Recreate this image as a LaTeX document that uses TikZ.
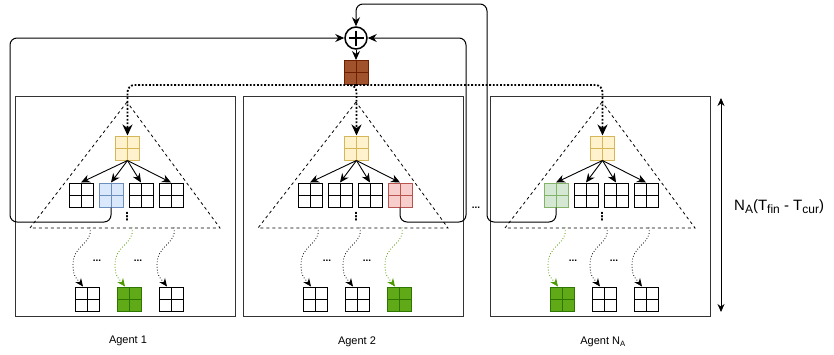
\documentclass[tikz,border=0pt]{standalone}
\usepackage{fontspec}
\setmainfont{Liberation Sans}
\newfontfamily\symfont{DejaVu Sans}
\usepackage{tikz}
\usetikzlibrary{shapes,arrows.meta,positioning,calc}

\definecolor{yelfill}{HTML}{FFF2CC}
\definecolor{yeldraw}{HTML}{D6B656}
\definecolor{bluefill}{HTML}{DAE8FC}
\definecolor{bluedraw}{HTML}{6C8EBF}
\definecolor{redfill}{HTML}{F8CECC}
\definecolor{reddraw}{HTML}{B85450}
\definecolor{lgrfill}{HTML}{D5E8D4}
\definecolor{lgrdraw}{HTML}{82B366}
\definecolor{grfill}{HTML}{60A917}
\definecolor{grdraw}{HTML}{2D7600}
\definecolor{brfill}{HTML}{A0522D}
\definecolor{brdraw}{HTML}{6D1F00}
\definecolor{grline}{HTML}{4D9900}

\newcommand{\subtext}[1]{\raisebox{-0.35ex}{\fontsize{12}{14}\selectfont #1}}

\tikzset{
	cell/.style 2 args={draw=#1, fill=#2, line width=1pt, minimum size=24pt, inner sep=0pt,
		path picture={\draw[#1, line width=1pt] (path picture bounding box.north) -- (path picture bounding box.south) (path picture bounding box.west) -- (path picture bounding box.east);}},
	emptycell/.style={cell={black}{white}},
	agentbox/.style={draw=black!80, line width=1pt},
	searchtree/.style={dashed, line width=0.8pt},
	arr/.style={-{Stealth[length=9pt,width=8pt]}, line width=0.9pt},
	feedback/.style={-{Stealth[length=9pt,width=8pt]}, line width=1pt, rounded corners=7pt},
	sharing/.style={-{Stealth[length=11pt,width=10pt]}, line width=1.8pt, dash pattern=on 1.8pt off 1.8pt, rounded corners=7pt},
	wavy/.style={-{Stealth[length=8pt,width=7pt]}, dotted, line width=0.8pt},
	hdots/.style={font=\bfseries, inner sep=0pt},
	vdots/.style={font=\symfont\bfseries\fontsize{11}{12}\selectfont, inner sep=0pt}
}

\begin{document}
\begin{tikzpicture}[x=1pt,y=-1pt]
	\useasboundingbox (0,0) rectangle (834,354);

	\draw[agentbox] (15,96) rectangle (235,316);
	\draw[agentbox] (243,96) rectangle (463,316);
	\draw[agentbox] (490,96) rectangle (710,316);
	\node[font=\fontsize{11}{13}\selectfont] (agent1) at (128,341) {Agent 1};
	\node[font=\fontsize{11}{13}\selectfont] (agent2) at (357,342) {Agent 2};
	\node[font=\fontsize{11}{13}\selectfont] (agent3) at (603,342) {Agent N\textsubscript{A}};

	\draw[searchtree] (127,102) -- (30,228) -- (220,228) -- cycle;
	\draw[searchtree] (356,102) -- (258,228) -- (448,228) -- cycle;
	\draw[searchtree] (602,102) -- (505,228) -- (695,228) -- cycle;

	\node[circle, draw, line width=1.5pt, minimum size=22pt, inner sep=0pt,
		path picture={\draw[line width=1.8pt] ([yshift=-3.5pt]path picture bounding box.north) -- ([yshift=3.5pt]path picture bounding box.south) ([xshift=3.5pt]path picture bounding box.west) -- ([xshift=-3.5pt]path picture bounding box.east);}] (sum) at (356,38) {};
	\node[cell={brdraw}{brfill}] (brown) at (356,72.5) {};

	\node[cell={yeldraw}{yelfill}] (y1) at (127.5,148) {};
	\node[cell={yeldraw}{yelfill}] (y2) at (356.5,148) {};
	\node[cell={yeldraw}{yelfill}] (y3) at (602.5,148) {};

	\node[emptycell] (c11) at (81,195) {};
	\node[cell={bluedraw}{bluefill}, right=5pt of c11] (c12) {};
	\node[emptycell, right=5pt of c12] (c13) {};
	\node[emptycell, right=5pt of c13] (c14) {};
	\node[emptycell] (c21) at (310,195) {};
	\node[emptycell, right=5pt of c21] (c22) {};
	\node[emptycell, right=5pt of c22] (c23) {};
	\node[cell={reddraw}{redfill}, right=5pt of c23] (c24) {};
	\node[cell={lgrdraw}{lgrfill}] (c31) at (556,195) {};
	\node[emptycell, right=5pt of c31] (c32) {};
	\node[emptycell, right=5pt of c32] (c33) {};
	\node[emptycell, right=5pt of c33] (c34) {};

	\node[vdots] (v1) at (127,217) {⋮};
	\node[vdots] (v2) at (356,217) {⋮};
	\node[vdots] (v3) at (602,217) {⋮};

	\node[emptycell] (b11) at (87,299) {};
	\node[cell={grdraw}{grfill}, right=17pt of b11] (b12) {};
	\node[emptycell, right=17pt of b12] (b13) {};
	\node[emptycell] (b21) at (315,299) {};
	\node[emptycell, right=17pt of b21] (b22) {};
	\node[cell={grdraw}{grfill}, right=17pt of b22] (b23) {};
	\node[cell={grdraw}{grfill}] (b31) at (562,299) {};
	\node[emptycell, right=17pt of b31] (b32) {};
	\node[emptycell, right=17pt of b32] (b33) {};

	\node[hdots] (d11) at (97,261) {...};
	\node[hdots] (d12) at (138,261) {...};
	\node[hdots] (d21) at (327,261) {...};
	\node[hdots] (d22) at (367,261) {...};
	\node[hdots] (d31) at (573,261) {...};
	\node[hdots] (d32) at (614,261) {...};
	\node[hdots] (dmid) at (476,208) {...};

	\foreach \t in {y1,y2,y3}
		\draw[sharing] (brown.south) -| (\t.north);
	\draw[arr] (sum) -- (brown);

	\foreach \c in {c11,c12,c13,c14}
		\draw[arr] (y1.south) -- (\c.north);
	\foreach \c in {c21,c22,c23,c24}
		\draw[arr] (y2.south) -- (\c.north);
	\foreach \c in {c31,c32,c33,c34}
		\draw[arr] (y3.south) -- (\c.north);

	\foreach \b/\col in {b11/black,b12/grline,b13/black,b21/black,b22/black,b23/grline,b31/grline,b32/black,b33/black}
		\draw[wavy,\col] ($(\b.north)+(3,-59)$) .. controls +(3,17) and +(0,-20) .. ++(-17,37) .. controls +(0,13) and +(-6,-8) .. ($(\b.north)+(-4,0)$);

	\coordinate (l1) at (10,222);
	\draw[feedback] (c12.south) |- (l1) |- (sum.west);
	\coordinate (l2) at (466,222);
	\draw[feedback] (c24.south) |- (l2) |- (sum.east);
	\coordinate (l3) at (487,222);
	\coordinate (l3top) at (487,4);
	\draw[feedback] (c31.south) |- (l3) -- (l3top) -| (sum.north);

	\coordinate (h1) at (721,98);
	\coordinate (h2) at (721,312);
	\draw[{Stealth[length=8pt,width=7pt]}-{Stealth[length=8pt,width=7pt]}, line width=0.8pt] (h1) -- (h2);
	\node[anchor=west, font=\fontsize{15}{18}\selectfont, inner sep=0pt] (horizon) at (734,207) {N\subtext{A}(T\subtext{fin} - T\subtext{cur})};
\end{tikzpicture}
\end{document}
